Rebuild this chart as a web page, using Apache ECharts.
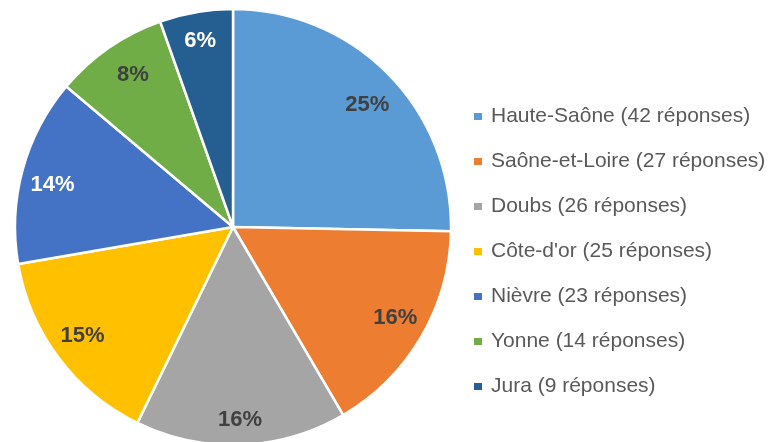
<!DOCTYPE html>
<html>
<head>
<meta charset="utf-8">
<script src="https://cdn.jsdelivr.net/npm/echarts@6/dist/echarts.min.js"></script>
<style>
  html, body { margin: 0; padding: 0; background: #fff; }
  #chart { width: 773px; height: 442px; }
</style>
</head>
<body>
<div id="chart"></div>
<script>
// departements et nombre de reponses
const names = ['Haute-Saône', 'Saône-et-Loire', 'Doubs', 'Côte-d\'or', 'Nièvre', 'Yonne', 'Jura']
const counts = [42, 27, 26, 25, 23, 14, 9]
// pourcentages tels qu'affiches sur le graphique
const pctLabels = ['25%', '16%', '16%', '15%', '14%', '8%', '6%']
const colors = ['#5b9bd5', '#ed7d31', '#a5a5a5', '#ffc000', '#4472c4', '#70ad47', '#255e91']
const labelColors = ['#404040', '#404040', '#404040', '#404040', '#ffffff', '#404040', '#ffffff']
// small nudges so the labels sit where excel put them
const labelOffsets = [[0, 10], [0, -4], [0, 5], [0, -4], [1, 7], [7, 3], [-1, -1]]

const center = [233, 227]
const R = 218

const slices = names.map((n, i) => ({
  name: n,
  value: counts[i],
  itemStyle: { color: colors[i] }
}))

// second ring, transparent, only used to place the labels near the rim
const labelRing = names.map((n, i) => ({
  name: n,
  value: counts[i],
  itemStyle: { color: 'transparent', borderWidth: 0 },
  label: { color: labelColors[i], formatter: pctLabels[i], offset: labelOffsets[i] }
}))

const chart = echarts.init(document.getElementById('chart'))
chart.setOption({
  animation: false,
  legend: {
    orient: 'vertical',
    left: 472,
    top: 106,
    padding: 0,
    icon: 'rect',
    itemWidth: 10,
    itemHeight: 9,
    itemGap: 24,
    data: names,
    formatter: name => name + ' (' + counts[names.indexOf(name)] + ' réponses)',
    textStyle: {
      fontFamily: 'Liberation Sans',
      fontSize: 21,
      lineHeight: 21,
      color: '#595959',
      padding: [0, 0, 0, 3]
    }
  },
  series: [
    {
      type: 'pie',
      center: center,
      radius: [0, R],
      startAngle: 90,
      clockwise: true,
      silent: true,
      label: { show: false },
      labelLine: { show: false },
      itemStyle: { borderColor: '#fff', borderWidth: 2.5 },
      data: slices
    },
    {
      type: 'pie',
      center: center,
      radius: [152, R],
      startAngle: 90,
      clockwise: true,
      silent: true,
      legendHoverLink: false,
      label: {
        show: true,
        position: 'inside',
        fontFamily: 'Liberation Sans',
        fontWeight: 'bold',
        fontSize: 22
      },
      labelLine: { show: false },
      data: labelRing
    }
  ]
})
</script>
</body>
</html>
